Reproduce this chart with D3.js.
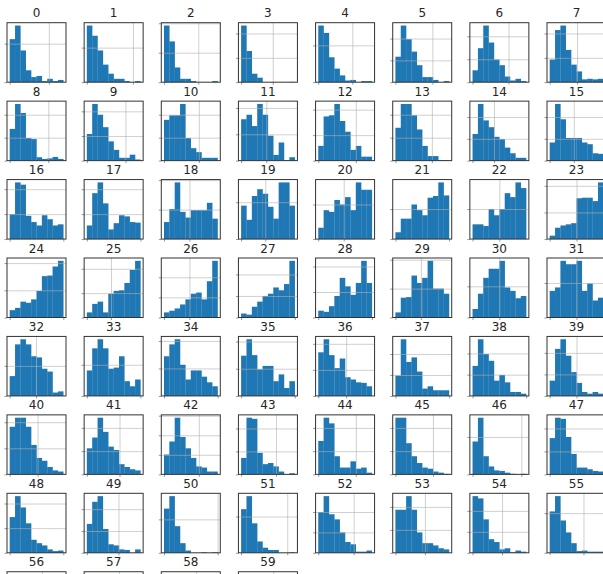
<!DOCTYPE html>
<html>
<head>
<meta charset="utf-8">
<script src="https://cdn.jsdelivr.net/npm/d3@7"></script>
<style>
  body { margin: 0; background: white; }
  .grid line { stroke: #b0b0b0; stroke-opacity: 0.6; }
  .grid path { display: none; }
  .ticks line { stroke: #999; }
  .ticks path { display: none; }
</style>
</head>
<body>
<script>
// Bin heights per column (tallest bin of each panel = 100)
var binHeights = [
  [76, 100, 56, 21, 9, 11, 2, 6, 2, 4],
  [100, 82, 56, 31, 15, 6, 6, 2, 0, 2],
  [100, 72, 26, 6, 6, 2, 0, 0, 0, 2],
  [100, 55, 15, 8, 0, 0, 0, 0, 0, 0.5],
  [100, 87, 44, 24, 12, 3, 4, 0, 2, 2],
  [45, 100, 76, 54, 30, 9, 9, 4, 0, 2],
  [21, 60, 100, 70, 40, 30, 10, 3, 6, 2],
  [40, 92, 100, 57, 31, 19, 5, 6, 5, 6],
  [56, 100, 84, 40, 38, 6, 3, 4, 6.5, 3],
  [47, 100, 81, 59, 34, 19, 5, 5, 10.5, 2],
  [72, 80, 80, 100, 40, 22, 15, 5, 5, 5],
  [73, 81, 61, 100, 81, 44, 10, 32, 1, 6],
  [26, 78, 80, 100, 70, 51, 19, 26, 7, 7],
  [58, 100, 100, 80, 55, 26, 8, 8, 1, 1],
  [47, 100, 71, 59, 42, 38, 23, 13, 5, 5],
  [32, 100, 73, 40, 40, 40, 32, 29, 13, 12],
  [44, 100, 96, 41, 30, 24, 42, 35, 24, 26],
  [24, 81, 100, 63, 17, 28, 42, 40, 30, 29],
  [30, 53, 100, 48, 38, 51, 51, 51, 64, 36],
  [59, 34, 76, 88, 80, 57, 36, 100, 100, 59],
  [20, 51, 48, 69, 61, 74, 51, 100, 87, 87],
  [12, 36, 36, 61, 51, 42, 73, 76, 100, 77],
  [26, 26, 23, 53, 42, 53, 81, 74, 100, 90],
  [6, 20, 24, 26, 28, 72, 73, 73, 67, 100],
  [13, 17, 28, 26, 32, 47, 73, 74, 90, 100],
  [9, 24, 28, 9, 42, 47, 48, 61, 84, 100],
  [9, 12, 16, 23, 32, 42, 44, 32, 64, 100],
  [7, 5, 19, 28, 38, 42, 53, 48, 59, 100],
  [12, 10, 20, 38, 70, 55, 40, 61, 100, 61],
  [9, 35, 36, 74, 61, 70, 100, 51, 51, 42],
  [15, 42, 70, 86, 86, 100, 53, 47, 34, 38],
  [47, 53, 100, 94, 94, 100, 47, 60, 30, 35],
  [35, 91, 100, 91, 70, 68, 48, 43, 6, 8],
  [45, 84, 100, 84, 48, 50, 70, 26, 17, 29],
  [70, 91, 100, 55, 29, 45, 45, 34, 24, 17],
  [71, 100, 72, 47, 53, 53, 26, 38, 14, 26],
  [77, 100, 72, 49, 66, 33, 29, 24, 23, 17],
  [36, 100, 60, 68, 43, 13, 17, 10, 10, 10],
  [53, 100, 74, 62, 27, 37, 24, 7, 7, 4],
  [27, 83, 100, 71, 42, 23, 7, 4, 7, 4],
  [84, 100, 100, 84, 52, 29, 24, 13, 7, 5],
  [46, 65, 100, 75, 49, 43, 18, 13, 9, 7],
  [35, 58, 100, 66, 46, 29, 14, 12, 5, 5],
  [29, 100, 98, 38, 18, 20, 14, 5, 0, 2],
  [59, 100, 90, 32, 12, 12, 23, 10, 12, 3],
  [100, 100, 55, 32, 20, 12, 10, 5, 3, 1],
  [58, 100, 32, 14, 7, 6, 3, 1, 0, 1],
  [64, 100, 98, 66, 36, 12, 12, 9, 6, 5],
  [63, 100, 80, 52, 23, 17, 13, 6, 3, 4],
  [51, 90, 100, 42, 15, 13, 6, 5, 0, 6],
  [78, 100, 47, 17, 4, 0, 0, 1, 0, 1],
  [77, 100, 52, 20, 9, 5, 5, 0, 0, 1],
  [72, 100, 68, 59, 36, 19, 15, 2, 2, 4],
  [76, 76, 100, 76, 36, 17, 17, 13, 8, 6],
  [100, 96, 59, 24, 19, 6, 8, 1, 4, 2],
  [73, 100, 57, 36, 17, 3, 4, 2, 2, 2],
  [70, 100, 60, 35, 20, 12, 8, 5, 3, 2],
  [60, 100, 70, 40, 22, 12, 7, 4, 2, 1],
  [80, 100, 55, 28, 14, 8, 4, 2, 1, 1],
  [75, 100, 50, 25, 12, 6, 3, 2, 1, 1]
]

// y tick spacing (same units as above) and where the inner x tick sits, in bins
var yTickStep = [68, 61, 52, 43, 65, 38.5, 40.5, 43,
                 40.5, 43.5, 40.5, 46.5, 45, 40.5, 38.5, 38.5,
                 44, 44, 52, 65, 61, 53, 53, 47,
                 48, 43, 35.5, 38, 45, 51, 55, 61,
                 53, 55, 48.5, 48, 46, 37, 37.5, 38,
                 46, 41, 34.5, 40.5, 41, 41, 66, 40.5,
                 43.5, 38.5, 59, 64, 36, 40.5, 37, 70,
                 45, 45, 45, 45]
var xTickAt = [7.3, 8.6, 6.4, 5.9, 6.35, 6.9, 6.7, 5.1,
               7.2, 7.2, 6.5, 4.7, 7.0, 6.8, 4.0, 4.5,
               null, null, 4.75, 4.5, 4.75, null, 5.0, 5.0,
               null, 4.5, 4.75, null, null, 4.75, 5.0, 5.0,
               4.9, null, null, null, 5.2, null, null, 5.0,
               5.2, 6.1, 6.5, 6.5, 7.0, 7.0, 9.1, null,
               null, 5.9, 10.0, 8.6, 6.6, 5.5, 5.5, 6.3,
               6.0, 6.0, 6.0, 6.0]

var panelW = 59, panelH = 59.5
var nCols = 8

var svg = d3.select("body").append("svg")
  .attr("width", 603).attr("height", 574)
  .style("background", "white")

var x = d3.scaleLinear().domain([-0.5, 10.5]).range([0, panelW])
var y = d3.scaleLinear().domain([0, 105]).range([panelH, 0])

var colPos = d3.scaleLinear().domain([0, 7]).range([7, 547])
var rowPos = d3.scaleLinear().domain([0, 6]).range([22.7, 493.3])

for (var i = 0; i < binHeights.length; i++) {
  var col = i % nCols
  var row = Math.floor(i / nCols)
  var g = svg.append("g")
    .attr("transform", "translate(" + colPos(col) + "," + rowPos(row) + ")")

  var bins = binHeights[i]
  g.selectAll("rect.bar").data(bins).enter().append("rect")
    .attr("class", "bar")
    .attr("x", function(d, k) { return x(k) })
    .attr("width", x(1) - x(0) + 0.2)
    .attr("y", function(d) { return y(d) })
    .attr("height", function(d) { return panelH - y(d) })
    .attr("fill", "#1f77b4")

  var yt = d3.range(0, 105, yTickStep[i])
  var xt = [0]
  if (xTickAt[i] != null) xt.push(xTickAt[i])
  else xt.push(10)

  // grid
  g.append("g").attr("class", "grid")
    .call(d3.axisLeft(y).tickValues(yt.slice(1)).tickSize(-panelW).tickFormat(""))
  if (xTickAt[i] != null) {
    g.append("g").attr("class", "grid")
      .call(d3.axisTop(x).tickValues([xTickAt[i]]).tickSize(-panelH).tickFormat(""))
  }

  // small tick marks
  g.append("g").attr("class", "ticks")
    .call(d3.axisLeft(y).tickValues(yt).tickSize(2.5).tickFormat(""))
  g.append("g").attr("class", "ticks")
    .attr("transform", "translate(0," + panelH + ")")
    .call(d3.axisBottom(x).tickValues(xt).tickSize(2.5).tickFormat(""))

  // frame
  g.append("rect")
    .attr("width", panelW).attr("height", panelH)
    .attr("fill", "none").attr("stroke", "#333").attr("stroke-width", 1)

  g.append("text").text(String(i))
    .attr("x", panelW / 2).attr("y", -5.5)
    .attr("text-anchor", "middle")
    .attr("font-family", "DejaVu Sans, sans-serif")
    .attr("font-size", 12)
    .attr("fill", "#262626")
}
</script>
</body>
</html>
